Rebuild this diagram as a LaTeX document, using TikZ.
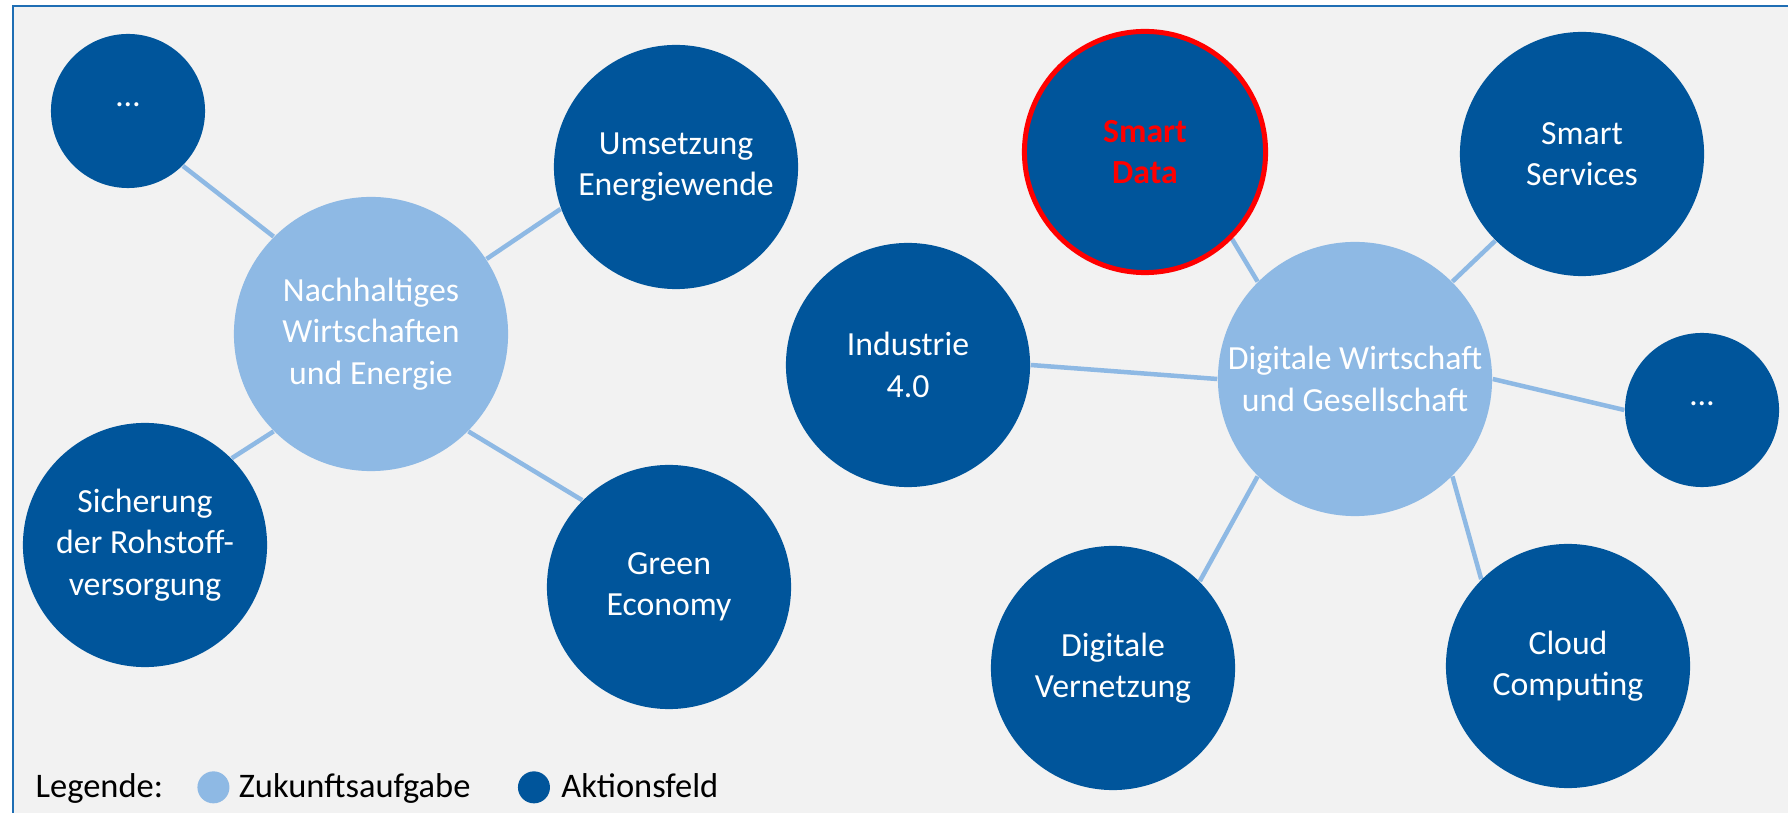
\documentclass[tikz,border=0pt]{standalone}
\usepackage{fontspec}
\setmainfont{Carlito}
\usetikzlibrary{positioning}

\definecolor{aktion}{RGB}{0,85,155}
\definecolor{zukunft}{RGB}{142,185,228}
\definecolor{panel}{RGB}{242,242,242}
\definecolor{rahmen}{RGB}{31,110,180}

\pgfdeclarelayer{background}
\pgfsetlayers{background,main}

\begin{document}
\begin{tikzpicture}[x=0.01cm, y=-0.01cm,
  aktion node/.style={circle, fill=aktion, text=white, minimum size=2.44cm, inner sep=0pt, align=center, font=\fontsize{9.6}{11.8}\selectfont},
  zukunft node/.style={aktion node, fill=zukunft, minimum size=2.74cm},
  small node/.style={aktion node, minimum size=1.54cm, text depth=0.12cm},
  link/.style={draw=zukunft, line width=0.045cm},
  leg text/.style={inner sep=0pt, text height=1.6ex, text depth=0.45ex, font=\fontsize{9.8}{11.8}\selectfont},
  leg dot/.style={circle, minimum size=0.32cm, inner sep=0pt}]
\useasboundingbox (0,0) rectangle (1788,813);
\begin{pgfonlayer}{background}
\fill[white] (0,0) rectangle (1788,813);
\fill[panel] (13,6) rectangle (1788,813);
\draw[rahmen, line width=0.025cm] (13,813) -- (13,6) -- (1788,6);
\end{pgfonlayer}

% Zukunftsaufgaben
\node[zukunft node] (nachhaltig) at (371,334) {Nachhaltiges\\Wirtschaften\\und Energie};
\node[zukunft node] (digital) at (1355,379) {Digitale Wirtschaft\\und Gesellschaft};

% Aktionsfelder
\foreach \n/\x/\y/\t in {umsetzung/676/167/Umsetzung\\Energiewende, sicherung/145/545/Sicherung\\der Rohstoff-\\versorgung, green/669/587/Green\\Economy, industrie/908/365/Industrie\\4.0, services/1582/154/Smart\\Services, vernetzung/1113/668/Digitale\\Vernetzung, cloud/1568/666/Cloud\\Computing}{
    \node[aktion node] (\n) at (\x,\y) {\t};}
\node[aktion node, draw=red, line width=0.05cm, minimum size=2.41cm, text=red, font=\fontsize{9.6}{11.8}\selectfont\bfseries] (smartdata) at (1145,152) {Smart\\Data};
\foreach \n/\x/\y in {dotsl/128/111, dotsr/1702/410}{
    \node[small node] (\n) at (\x,\y) {…};}

\begin{pgfonlayer}{background}
\foreach \a/\b in {dotsl.-45/nachhaltig.135, nachhaltig.33/umsetzung.200, nachhaltig.225/sicherung.45, nachhaltig.-45/green.135, industrie.0/digital.180, smartdata.-45/digital.135, services.225/digital.45, digital.0/dotsr.180, digital.225/vernetzung.45, digital.-45/cloud.135}{
    \draw[link] (\a) -- (\b);}
\end{pgfonlayer}

% Legende
\node[leg text, anchor=base west] (legende) at (35,797) {Legende:};
\node[leg dot, fill=zukunft, right=0.33cm of legende] (legzukunft) {};
\node[leg text, right=0.08cm of legzukunft] (zukunfttext) {Zukunftsaufgabe};
\node[leg dot, fill=aktion, right=0.46cm of zukunfttext] (legaktion) {};
\node[leg text, right=0.1cm of legaktion] (aktiontext) {Aktionsfeld};
\end{tikzpicture}
\end{document}
